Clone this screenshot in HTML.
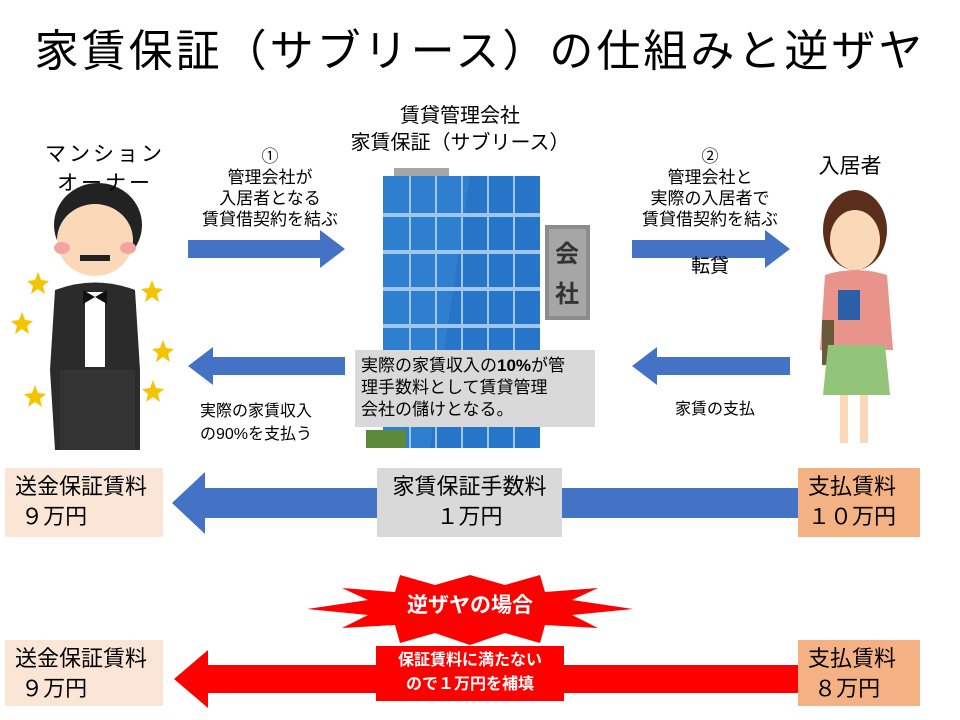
<!DOCTYPE html>
<html><head><meta charset="utf-8"><style>
html,body{margin:0;padding:0;background:#fff}
body{width:960px;height:720px;position:relative;overflow:hidden;font-family:"Liberation Sans","Noto Sans CJK JP",sans-serif;color:#000}
.t{position:absolute;white-space:nowrap;text-align:center;line-height:1.15}
.box{position:absolute;font-size:22px;line-height:30px;padding-left:10px;box-sizing:border-box;padding-top:4px}
</style></head><body>
<svg width="960" height="720" style="position:absolute;left:0;top:0">
<polygon points="188,240 320,240 320,230 345,249 320,268 320,258 188,258" fill="#4472c4"/>
<polygon points="632,240 765,240 765,230 790,249 765,268 765,258 632,258" fill="#4472c4"/>
<polygon points="345,357 213,357 213,347 188,366 213,385 213,375 345,375" fill="#4472c4"/>
<polygon points="790,357 657,357 657,347 632,366 657,385 657,375 790,375" fill="#4472c4"/>
<polygon points="800,488 205,488 205,472 172,503 205,534 205,518 800,518" fill="#4472c4"/>
<polygon points="800,665 208,665 208,650 174,679 208,708 208,693 800,693" fill="#ff0000"/>
<rect x="394" y="168" width="55" height="10" fill="#a6a6a6"/>
<rect x="383" y="176" width="157" height="272" fill="#2e7fd0"/>
<polygon points="470,176 540,176 540,448 430,448" fill="#1f6cc0" opacity="0.5"/>
<g stroke="#9fc7ec" stroke-width="4">
<line x1="383" y1="215" x2="540" y2="215"/><line x1="383" y1="252" x2="540" y2="252"/><line x1="383" y1="289" x2="540" y2="289"/><line x1="383" y1="326" x2="540" y2="326"/><line x1="383" y1="363" x2="540" y2="363"/><line x1="383" y1="400" x2="540" y2="400"/>
<line x1="410" y1="176" x2="410" y2="448" stroke-width="2"/><line x1="436" y1="176" x2="436" y2="448" stroke-width="2"/><line x1="462" y1="176" x2="462" y2="448" stroke-width="2"/><line x1="488" y1="176" x2="488" y2="448" stroke-width="2"/><line x1="514" y1="176" x2="514" y2="448" stroke-width="2"/>
</g>
<rect x="366" y="430" width="40" height="18" fill="#5a8a3a"/>
<rect x="545" y="225" width="45" height="95" fill="#8c8c8c"/>
<rect x="549" y="229" width="37" height="87" fill="#a6a6a6"/>
<text x="567" y="262" font-size="24" font-weight="bold" fill="#333" text-anchor="middle" font-family="Liberation Sans,Noto Sans CJK JP,sans-serif">会</text>
<text x="567" y="302" font-size="24" font-weight="bold" fill="#333" text-anchor="middle" font-family="Liberation Sans,Noto Sans CJK JP,sans-serif">社</text>
<ellipse cx="98" cy="225" rx="44" ry="42" fill="#222"/>
<ellipse cx="95" cy="240" rx="38" ry="36" fill="#fbd9b8"/>
<ellipse cx="62" cy="248" rx="8" ry="6" fill="#f4a3a3"/><ellipse cx="128" cy="248" rx="8" ry="6" fill="#f4a3a3"/>
<rect x="80" y="255" width="30" height="6" fill="#222"/>
<path d="M55,290 Q95,275 135,290 L140,370 L140,450 L55,450 L50,370 Z" fill="#2b2b2b"/>
<rect x="85" y="292" width="20" height="75" fill="#fff"/>
<polygon points="83,290 95,297 107,290 107,304 95,297 83,304" fill="#111"/>
<rect x="60" y="370" width="75" height="80" fill="#333"/>
<g fill="#f5c400">
<polygon points="38,272 41,280 49,281 43,286 45,294 38,289 31,294 33,286 27,281 35,280"/>
<polygon points="152,280 155,288 163,289 157,294 159,302 152,297 145,302 147,294 141,289 149,288"/>
<polygon points="22,312 25,320 33,321 27,326 29,334 22,329 15,334 17,326 11,321 19,320"/>
<polygon points="163,340 166,348 174,349 168,354 170,362 163,357 156,362 158,354 152,349 160,348"/>
<polygon points="35,385 38,393 46,394 40,399 42,407 35,402 28,407 30,399 24,394 32,393"/>
<polygon points="153,380 156,388 164,389 158,394 160,402 153,397 146,402 148,394 142,389 150,388"/>
</g>
<ellipse cx="855" cy="230" rx="32" ry="40" fill="#5b2e1c"/>
<ellipse cx="855" cy="240" rx="25" ry="30" fill="#fbd9b8"/>
<path d="M825,275 Q855,265 887,275 L893,350 L820,350 Z" fill="#e8948a"/>
<rect x="838" y="290" width="22" height="30" fill="#2b5fa8"/>
<rect x="822" y="320" width="12" height="45" fill="#6b5a3a"/>
<path d="M828,345 L885,345 L890,395 L823,395 Z" fill="#92c47a"/>
<rect x="840" y="395" width="8" height="48" fill="#fbd9b8"/><rect x="860" y="395" width="8" height="48" fill="#fbd9b8"/>
<polygon points="470,575 505,585 540,575 545,592 598,588 572,600 633,609 572,615 598,628 545,625 540,643 505,633 470,645 435,633 400,643 395,625 342,628 368,615 307,609 368,600 342,588 395,592 400,575 435,585" fill="#ff0000"/>
</svg>

<div class="t" style="left:0;width:960px;top:27px;font-size:44px;letter-spacing:3px">家賃保証（サブリース）の仕組みと逆ザヤ</div>
<div class="t" style="left:30px;width:150px;top:140px;font-size:21px;line-height:29px;letter-spacing:3px">マンション<br>オーナー</div>
<div class="t" style="left:180px;width:180px;top:146px;font-size:17px;line-height:21px">①<br>管理会社が<br>入居者となる<br>賃貸借契約を結ぶ</div>
<div class="t" style="left:330px;width:260px;top:103px;font-size:20px;line-height:27px">賃貸管理会社<br>家賃保証（サブリース）</div>
<div class="t" style="left:620px;width:180px;top:146px;font-size:17px;line-height:21px">②<br>管理会社と<br>実際の入居者で<br>賃貸借契約を結ぶ</div>
<div class="t" style="left:670px;width:80px;top:256px;font-size:19px">転貸</div>
<div class="t" style="left:800px;width:100px;top:155px;font-size:21px">入居者</div>
<div style="position:absolute;left:355px;top:350px;width:240px;height:77px;background:#d9d9d9;font-size:17px;line-height:22px;padding:5px 6px;box-sizing:border-box;white-space:nowrap">実際の家賃収入の<b>10%</b>が管<br>理手数料として賃貸管理<br>会社の儲けとなる。</div>
<div class="t" style="left:200px;width:150px;top:400px;font-size:16px;line-height:23px;text-align:left">実際の家賃収入<br>の90%を支払う</div>
<div class="t" style="left:660px;width:110px;top:401px;font-size:16px">家賃の支払</div>
<div class="box" style="left:5px;top:468px;width:158px;height:69px;background:#fbe5d6">送金保証賃料<br>&nbsp;９万円</div>
<div class="box" style="left:377px;top:468px;width:185px;height:69px;background:#d9d9d9;text-align:center;padding-left:0">家賃保証手数料<br>１万円</div>
<div class="box" style="left:798px;top:468px;width:122px;height:69px;background:#f4b183">支払賃料<br>１０万円</div>
<div class="t" style="left:370px;width:200px;top:594px;font-size:21px;font-weight:bold;color:#fff">逆ザヤの場合</div>
<div class="box" style="left:5px;top:640px;width:158px;height:66px;background:#fbe5d6">送金保証賃料<br>&nbsp;９万円</div>
<div style="position:absolute;left:376px;top:646px;width:188px;height:55px;background:#ff0000;color:#fff;font-weight:bold;font-size:16px;line-height:24px;text-align:center;padding-top:3px;box-sizing:border-box">保証賃料に満たない<br>ので１万円を補填</div>
<div class="box" style="left:798px;top:640px;width:122px;height:66px;background:#f4b183">支払賃料<br>&nbsp;８万円</div>
</body></html>
